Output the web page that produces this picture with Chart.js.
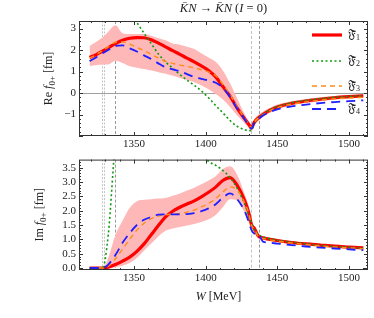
<!DOCTYPE html>
<html><head><meta charset="utf-8">
<script src="https://cdn.jsdelivr.net/npm/chart.js@4"></script>
<style>
html,body{margin:0;padding:0;background:#fff;}
#wrap{position:relative;width:374px;height:318px;overflow:hidden;}
#c1{position:absolute;left:0;top:0;}
#c2{position:absolute;left:0;top:150px;}
</style></head><body>
<div id="wrap">
<canvas id="c1" width="374" height="150"></canvas>
<canvas id="c2" width="374" height="168"></canvas>
</div>
<script>
// ---- data ----
const W = [1319,1324,1328,1332,1337,1342,1347,1352,1357,1362,1367,1372,1377,1382,1387,1392,1397,1402,1407,1412,1417,1422,1427,1430,1432,1434,1437,1440,1445,1450,1460,1470,1480,1490,1500,1510];

const reF1 = [1.65,1.80,1.95,2.10,2.30,2.45,2.55,2.58,2.57,2.48,2.32,2.15,1.97,1.80,1.62,1.45,1.26,1.05,0.75,0.30,-0.15,-0.70,-1.18,-1.45,-1.62,-1.35,-1.15,-1.00,-0.80,-0.65,-0.48,-0.37,-0.29,-0.22,-0.17,-0.13];
const reF2 = [6.8,6.3,5.9,5.4,4.85,4.3,3.8,3.28,2.78,2.30,1.82,1.45,1.15,0.86,0.60,0.36,0.10,-0.22,-0.58,-0.92,-1.28,-1.55,-1.70,-1.75,-1.74,-1.40,-1.15,-1.00,-0.78,-0.63,-0.45,-0.34,-0.26,-0.20,-0.16,-0.12];
const reF3 = [1.62,1.80,1.97,2.15,2.36,2.38,2.27,2.12,1.97,1.80,1.63,1.47,1.38,1.30,1.24,1.17,1.08,0.98,0.80,0.40,-0.08,-0.65,-1.16,-1.45,-1.60,-1.35,-1.15,-1.02,-0.82,-0.68,-0.52,-0.41,-0.33,-0.27,-0.23,-0.20];
const reF4 = [1.48,1.68,1.85,2.00,2.19,2.22,2.08,1.93,1.75,1.58,1.38,1.20,1.10,1.01,0.88,0.75,0.66,0.58,0.48,0.25,-0.18,-0.72,-1.20,-1.50,-1.66,-1.38,-1.20,-1.05,-0.88,-0.76,-0.62,-0.54,-0.47,-0.42,-0.38,-0.34];
const reBandHi = [2.19,2.40,2.58,2.85,3.15,2.78,2.74,2.74,2.74,2.66,2.55,2.45,2.30,2.25,2.15,2.05,1.85,1.65,1.45,1.05,0.45,-0.25,-0.95,-1.30,-1.45,-1.20,-1.00,-0.86,-0.68,-0.54,-0.38,-0.28,-0.20,-0.14,-0.10,-0.06];
const reBandLo = [1.25,1.30,1.33,1.33,1.50,1.40,1.25,1.18,1.12,1.05,0.97,0.90,0.80,0.70,0.60,0.50,0.35,0.18,-0.05,-0.30,-0.65,-1.05,-1.40,-1.62,-1.78,-1.50,-1.30,-1.12,-0.92,-0.77,-0.58,-0.47,-0.38,-0.31,-0.26,-0.21];

const imF1 = [0,0,0,0.03,0.12,0.24,0.38,0.58,0.84,1.16,1.48,1.78,1.98,2.12,2.23,2.34,2.48,2.64,2.82,3.05,3.15,2.88,2.38,1.95,1.52,1.38,1.10,1.05,1.00,0.96,0.89,0.84,0.80,0.76,0.73,0.70];
const imF2 = [0,0,0,1.15,4.4,6.0,7.0,7.4,7.5,7.4,7.1,6.7,6.2,5.6,5.0,4.5,4.05,3.72,3.58,3.40,3.16,2.78,2.25,1.85,1.58,1.32,1.16,1.08,1.02,0.97,0.90,0.84,0.79,0.75,0.72,0.69];
const imF3 = [0,0,0,0.06,0.32,0.66,1.00,1.32,1.56,1.72,1.81,1.85,1.88,1.90,1.95,2.02,2.13,2.25,2.42,2.65,2.83,2.72,2.30,1.92,1.48,1.36,1.08,1.03,0.98,0.94,0.87,0.82,0.77,0.73,0.70,0.67];
const imF4 = [0,0,0,0.12,0.45,0.88,1.22,1.50,1.68,1.78,1.86,1.87,1.87,1.87,1.88,1.91,1.98,2.08,2.22,2.45,2.60,2.40,2.00,1.62,1.32,1.20,1.16,0.92,0.88,0.85,0.80,0.75,0.71,0.68,0.65,0.62];
const imBandHi = [0,0,0,0.35,1.15,1.65,2.10,2.33,2.38,2.40,2.42,2.44,2.52,2.60,2.70,2.80,2.92,3.05,3.20,3.45,3.55,3.25,2.60,2.15,1.60,1.45,1.16,1.10,1.05,1.01,0.94,0.88,0.84,0.80,0.77,0.74];
const imBandLo = [0,0,0,0,0.03,0.08,0.17,0.35,0.60,0.85,1.10,1.30,1.38,1.43,1.48,1.53,1.60,1.70,1.85,2.12,2.40,2.35,1.95,1.60,1.30,1.20,1.02,0.98,0.94,0.90,0.84,0.79,0.75,0.72,0.69,0.66];

const xTicks = [1350,1400,1450,1500];
const reTicks = [-1,0,1,2,3];
const imTicks = [0,0.5,1,1.5,2,2.5,3,3.5];
const thresholds = [1327.6,1328.9,1337.0,1431.95,1437.2];
const seriesNames = ['𝔉̃', '𝔉̃', '𝔉̃', '𝔉̃'];
const seriesIdx = ['1','2','3','4'];

// ---- helpers ----
const SERIF = '"Liberation Serif","DejaVu Serif",serif';
const pts = arr => W.map((w,i)=>({x:w,y:arr[i]}));
const styles = [
  {color:'#ff0000', width:3.2, dash:[]},
  {color:'#0f9a0f', width:1.6, dash:[2,2.5]},
  {color:'#ff8c1a', width:1.4, dash:[5,4]},
  {color:'#1f1fff', width:1.8, dash:[9,6]}
];
function lineDs(arr, k){
  const s = styles[k];
  return {data:pts(arr), borderColor:s.color, borderWidth:s.width, borderDash:s.dash,
    pointRadius:0, fill:false, cubicInterpolationMode:'monotone', order:4-k, clip:0};
}
function bandDs(hi, lo){
  return [
    {data:pts(hi), borderWidth:0, borderColor:'rgba(0,0,0,0)', backgroundColor:'#ffb8b8', fill:'+1', pointRadius:0, cubicInterpolationMode:'monotone', order:10, clip:0},
    {data:pts(lo), borderWidth:0, borderColor:'rgba(0,0,0,0)', fill:false, pointRadius:0, cubicInterpolationMode:'monotone', order:11, clip:0}
  ];
}

function drawRich(ctx, parts, x, y, size, rotate){
  ctx.save();
  ctx.translate(x,y);
  if (rotate) ctx.rotate(-Math.PI/2);
  ctx.textBaseline = 'middle';
  ctx.fillStyle = '#222';
  const fonts = parts.map(p => (p.it?'italic ':'') + (p.sub? Math.round(size*0.72):size) + 'px ' + SERIF);
  let total = 0;
  parts.forEach((p,i)=>{ ctx.font = fonts[i]; total += ctx.measureText(p.t).width; });
  let cx = -total/2;
  parts.forEach((p,i)=>{ ctx.font = fonts[i]; ctx.textAlign='left';
    ctx.fillText(p.t, cx, p.sub ? size*0.3 : 0); cx += ctx.measureText(p.t).width; });
  ctx.restore();
}

const deco = {
  id:'deco',
  beforeDatasetsDraw(chart, args, o){
    const {ctx, chartArea:a, scales:{x,y}} = chart;
    ctx.save();
    ctx.beginPath(); ctx.rect(a.left,a.top,a.right-a.left,a.bottom-a.top); ctx.clip();
    ctx.lineWidth = 1;
    thresholds.forEach((t,i)=>{
      const px = Math.round(x.getPixelForValue(t))+0.5;
      ctx.strokeStyle = (i===2||i===4) ? '#9a9a9a' : '#c4c4c4';
      ctx.setLineDash(i<2 ? [2,1.5] : [3,2]);
      ctx.beginPath(); ctx.moveTo(px,a.top); ctx.lineTo(px,a.bottom); ctx.stroke();
    });
    ctx.setLineDash([]);
    if (o.zero){
      const py = Math.round(y.getPixelForValue(0))+0.5;
      ctx.strokeStyle = '#a0a0a0';
      ctx.beginPath(); ctx.moveTo(a.left,py); ctx.lineTo(a.right,py); ctx.stroke();
    }
    ctx.restore();
  },
  afterDraw(chart, args, o){
    const {ctx, chartArea:a, scales:{x,y}} = chart;
    ctx.save();
    ctx.strokeStyle = '#333'; ctx.lineWidth = 1; ctx.setLineDash([]);
    ctx.strokeRect(a.left+0.5, a.top+0.5, a.right-a.left-1, a.bottom-a.top-1);
    const L = (x1,y1,x2,y2)=>{ctx.beginPath();ctx.moveTo(x1,y1);ctx.lineTo(x2,y2);ctx.stroke();};
    for (let v = Math.ceil(x.min/10)*10; v <= x.max; v += 10){
      const len = (v%50===0) ? 4 : 2;
      const px = Math.round(x.getPixelForValue(v))+0.5;
      L(px,a.bottom,px,a.bottom-len); L(px,a.top,px,a.top+len);
    }
    const n0 = Math.ceil(y.min/o.minor - 1e-9), n1 = Math.floor(y.max/o.minor + 1e-9);
    for (let n = n0; n <= n1; n++){
      const v = n*o.minor;
      const major = Math.abs(v/o.major - Math.round(v/o.major)) < 1e-6;
      const len = major ? 4 : 2;
      const py = Math.round(y.getPixelForValue(v))+0.5;
      L(a.left,py,a.left+len,py); L(a.right,py,a.right-len,py);
    }
    // axis titles
    drawRich(ctx, o.ytitle, o.ytx, (a.top+a.bottom)/2, 12, true);
    if (o.title) drawRich(ctx, o.title, (a.left+a.right)/2, 9, 12.5, false);
    if (o.xtitle) drawRich(ctx, o.xtitle, (a.left+a.right)/2 - 5, 147, 12, false);
    // legend
    if (o.legend){
      const ys = [35,61,86,109];
      styles.forEach((s,k)=>{
        ctx.strokeStyle = s.color; ctx.lineWidth = s.width; ctx.setLineDash(s.dash);
        L(312, ys[k], 342, ys[k]);
        ctx.setLineDash([]);
        ctx.fillStyle = '#222'; ctx.textBaseline='middle'; ctx.textAlign='left';
        ctx.font = '12px ' + SERIF;
        ctx.fillText(seriesNames[k], 348, ys[k]);
        const w = ctx.measureText(seriesNames[k]).width;
        ctx.font = '8px ' + SERIF;
        ctx.fillText(seriesIdx[k], 348 + w, ys[k] + 3);
      });
    }
    ctx.restore();
  }
};

function makeChart(id, datasets, yr, yticks, fmt, padTop, xAxisH, decoOpts){
  return new Chart(document.getElementById(id), {
    type:'line',
    data:{datasets},
    options:{
      responsive:false, animation:false, devicePixelRatio:1,
      layout:{padding:{top:padTop, right:6, left:0, bottom:0}},
      plugins:{legend:{display:false}, tooltip:{enabled:false}, deco:decoOpts},
      scales:{
        x:{type:'linear', min:1311.6, max:1513.3,
          grid:{display:false, drawTicks:false}, border:{display:false},
          afterBuildTicks: s => { s.ticks = xTicks.map(v=>({value:v})); },
          afterFit: s => { s.height = xAxisH; },
          ticks:{padding:2, color:'#222', font:{family:SERIF, size:11}, maxRotation:0, autoSkip:false,
            callback: v => String(v)}},
        y:{type:'linear', min:yr[0], max:yr[1],
          grid:{display:false, drawTicks:false}, border:{display:false},
          afterBuildTicks: s => { s.ticks = yticks.map(v=>({value:v})); },
          afterFit: s => { s.width = 79; },
          ticks:{padding:3, color:'#222', font:{family:SERIF, size:11}, autoSkip:false, callback: fmt}}
      }
    },
    plugins:[deco]
  });
}

const reSets = [lineDs(reF1,0), lineDs(reF2,1), lineDs(reF3,2), lineDs(reF4,3), ...bandDs(reBandHi, reBandLo)];
const imSets = [lineDs(imF1,0), lineDs(imF2,1), lineDs(imF3,2), lineDs(imF4,3), ...bandDs(imBandHi, imBandLo)];

makeChart('c1', reSets, [-2.0, 3.35], reTicks, v => v<0 ? '\u2212'+Math.abs(v) : String(v), 21, 14, {
  zero:true, minor:0.2, major:1, ytx:49, legend:true,
  ytitle:[{t:'Re '},{t:'f',it:true},{t:'0+',sub:true},{t:' [fm]'}],
  title:[{t:'K\u0304N',it:true},{t:' \u2192 '},{t:'K\u0304N',it:true},{t:' ('},{t:'I',it:true},{t:' = 0)'}]
});
makeChart('c2', imSets, [-0.07, 3.78], imTicks, v => v.toFixed(1), 5, 48, {
  zero:false, minor:0.1, major:0.5, ytx:40,
  ytitle:[{t:'Im '},{t:'f',it:true},{t:'0+',sub:true},{t:' [fm]'}],
  xtitle:[{t:'W',it:true},{t:' [MeV]'}]
});
</script>
</body></html>
